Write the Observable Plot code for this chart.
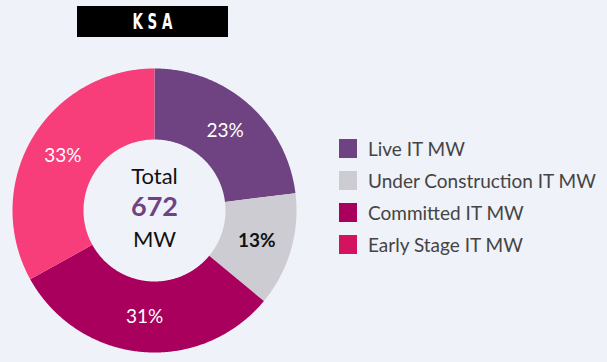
<!DOCTYPE html>
<html>
<head>
<meta charset="utf-8">
<script src="https://cdn.jsdelivr.net/npm/d3@7"></script>
<script src="https://cdn.jsdelivr.net/npm/@observablehq/plot@0.6"></script>
<style>
  html, body { margin: 0; padding: 0; background: #eff2f8; }
  #wrap { position: relative; width: 607px; height: 362px; overflow: hidden; background: #eff2f8; }
  #chart { position: absolute; left: 0; top: 0; }
  #title {
    position: absolute; left: 77px; top: 6px; width: 151px; height: 31px;
    background: #000; color: #fff; display: flex; align-items: center; justify-content: center;
    font-family: "DejaVu Sans Condensed", "DejaVu Sans", sans-serif; font-weight: bold;
  }
  #title span { display: inline-block; font-size: 22px; letter-spacing: 7px; padding-left: 7px; transform: scaleX(0.68); line-height: 1; }
  #legend { position: absolute; left: 339px; top: 132px; font-family: Lato, sans-serif; }
  .item { display: flex; align-items: center; height: 32px; }
  .sw { width: 18px; height: 19px; margin-right: 11px; }
  .lb { font-size: 19px; color: #444; white-space: nowrap; }
</style>
</head>
<body>
<div id="wrap">
  <div id="chart"></div>
  <div id="title"><span></span></div>
  <div id="legend"></div>
</div>
<script>
const titleText = "KSA";
const categories = ["Live IT MW", "Under Construction IT MW", "Committed IT MW", "Early Stage IT MW"];
const values = [155, 87, 208, 222];
const sliceColors = ["#6f4382", "#cdccd2", "#a8005c", "#f73d7a"];
const legendColors = ["#6f4382", "#cdccd2", "#a8005c", "#d3135f"];
const labelColors = ["#ffffff", "#111111", "#ffffff", "#ffffff"];
const labelWeights = ["normal", "bold", "normal", "normal"];
const centerTop = "Total";
const centerUnit = "MW";

const total = d3.sum(values);
const innerR = 0.5;
const arcs = d3.pie().sort(null).value(d => d)(values);

// polygon outlines of each donut slice in unit data space
const pts = [];
arcs.forEach((a, i) => {
  const n = Math.max(4, Math.ceil((a.endAngle - a.startAngle) / 0.01));
  for (let k = 0; k <= n; k++) {
    const t = a.startAngle + (a.endAngle - a.startAngle) * k / n;
    pts.push({cat: categories[i], x: Math.sin(t), y: Math.cos(t)});
  }
  for (let k = n; k >= 0; k--) {
    const t = a.startAngle + (a.endAngle - a.startAngle) * k / n;
    pts.push({cat: categories[i], x: innerR * Math.sin(t), y: innerR * Math.cos(t)});
  }
});

const labels = arcs.map((a, i) => {
  const m = (a.startAngle + a.endAngle) / 2;
  const r = (1 + innerR) / 2;
  return {
    x: r * Math.sin(m), y: r * Math.cos(m),
    text: Math.round(values[i] / total * 100) + "%",
    color: labelColors[i], weight: labelWeights[i]
  };
});

const chart = Plot.plot({
  width: 607,
  height: 362,
  margin: 0,
  style: {background: "transparent", fontFamily: "Lato, sans-serif", overflow: "visible"},
  x: {domain: [-1, 1], range: [12, 296], axis: null},
  y: {domain: [-1, 1], range: [352, 68], axis: null},
  color: {domain: categories, range: sliceColors},
  marks: [
    Plot.line(pts, {x: "x", y: "y", z: "cat", fill: "cat", stroke: "none", curve: "linear-closed"}),
    ...[0, 1, 2, 3].map(i =>
      Plot.text([labels[i]], {x: "x", y: "y", text: "text", fill: labels[i].color,
        fontSize: 19, fontWeight: labels[i].weight})
    ),
    Plot.text([centerTop], {x: () => 0, y: () => 0, text: d => d, dy: -34, fontSize: 22, fill: "#111"}),
    Plot.text([String(total)], {x: () => 0, y: () => 0, text: d => d, dy: -3, fontSize: 27, fontWeight: "bold", fill: "#6f4382"}),
    Plot.text([centerUnit], {x: () => 0, y: () => 0, text: d => d, dy: 29, fontSize: 22, fill: "#111"})
  ]
});
document.getElementById("chart").appendChild(chart);
document.querySelector("#title span").textContent = titleText;

const legend = document.getElementById("legend");
categories.forEach((c, i) => {
  const it = document.createElement("div");
  it.className = "item";
  const sw = document.createElement("div");
  sw.className = "sw";
  sw.style.background = legendColors[i];
  const lb = document.createElement("div");
  lb.className = "lb";
  lb.textContent = c;
  it.appendChild(sw); it.appendChild(lb);
  legend.appendChild(it);
});
</script>
</body>
</html>
